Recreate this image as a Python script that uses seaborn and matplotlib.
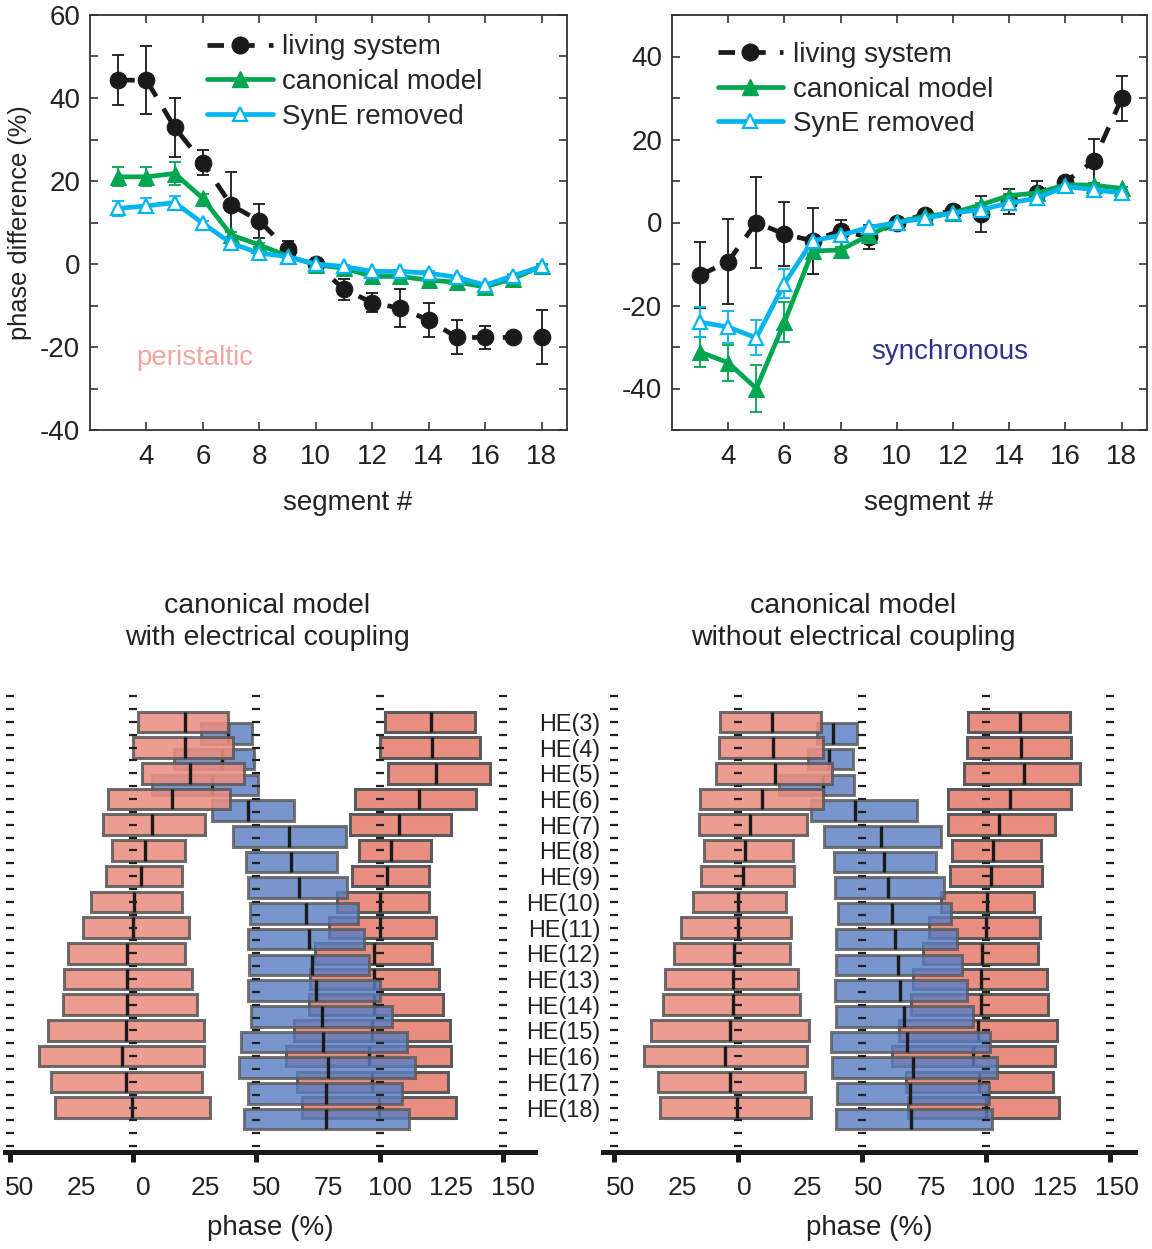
import numpy as np
import pandas as pd
import matplotlib
matplotlib.use("Agg")
import matplotlib.pyplot as plt
import matplotlib.transforms as mtransforms
import seaborn as sns
from matplotlib.lines import Line2D

# ---------------- data ----------------
segments = list(range(3, 19))

peri_living = [44.3, 44.3, 32.9, 24.4, 14.2, 10.4, 3.5, 0.0, -6.1, -9.3, -10.7, -13.5, -17.7, -17.7, -17.7, -17.7]
peri_living_err = [6.0, 8.2, 7.2, 3.0, 8.0, 4.1, 2.0, 0.5, 2.5, 2.2, 4.6, 4.0, 4.1, 2.8, 0.5, 6.5]
peri_canon = [21.0, 21.0, 21.8, 15.8, 7.0, 4.6, 1.9, -0.2, -1.0, -3.0, -3.0, -3.9, -4.4, -5.5, -3.5, -0.5]
peri_canon_err = [2.3, 2.3, 2.7, 1.0, 0.6, 0.5, 0.5, 0.4, 0.4, 0.4, 0.4, 0.4, 0.4, 0.4, 0.4, 0.4]
peri_syne = [13.4, 14.0, 14.8, 9.8, 5.0, 2.6, 1.8, 0.0, -0.6, -1.8, -1.8, -2.2, -3.2, -5.1, -2.8, -0.6]
peri_syne_err = [1.8, 1.8, 1.5, 0.6, 0.5, 0.5, 0.4, 0.4, 0.4, 0.4, 0.4, 0.4, 0.4, 0.4, 0.4, 0.4]

sync_living = [-12.7, -9.4, 0.0, -2.8, -4.4, -2.0, -3.5, 0.0, 1.9, 2.7, 2.0, 5.1, 7.1, 9.8, 14.8, 29.9]
sync_living_err = [7.9, 10.2, 10.9, 7.7, 8.0, 2.7, 2.8, 0.5, 1.0, 1.0, 4.4, 3.0, 2.8, 1.0, 5.4, 5.5]
sync_canon = [-31.2, -33.8, -40.0, -24.0, -6.9, -6.6, -3.1, 0.1, 1.5, 2.3, 4.3, 6.5, 7.1, 9.1, 9.0, 8.2]
sync_canon_err = [3.7, 4.4, 5.6, 4.8, 0.8, 0.6, 0.5, 0.4, 0.4, 0.4, 0.4, 0.4, 0.4, 0.4, 0.4, 0.4]
sync_syne = [-24.0, -25.2, -27.8, -14.7, -4.4, -3.1, -1.2, 0.0, 1.0, 2.3, 3.1, 4.7, 5.9, 8.7, 7.9, 7.1]
sync_syne_err = [3.6, 3.8, 4.2, 3.4, 0.6, 0.5, 0.4, 0.4, 0.4, 0.4, 0.4, 0.4, 0.4, 0.4, 0.4, 0.4]

series_names = ["living system", "canonical model", "SynE removed"]

he_labels = [f"HE({i})" for i in segments]

# with electrical coupling (phase %)
wc_pink_start = [2.0, 0.0, 3.4, -10.1, -12.2, -8.4, -11.1, -17.3, -20.5, -26.3, -28.1, -28.6, -34.7, -38.2, -33.4, -31.7]
wc_pink_med = [21.0, 21.2, 23.0, 15.8, 7.7, 4.7, 3.0, 0.3, 0.0, -2.4, -2.4, -2.4, -3.1, -4.5, -3.0, -0.3]
wc_pink_end = [38.5, 40.5, 44.9, 39.2, 29.1, 21.0, 20.0, 20.0, 22.7, 21.1, 23.9, 25.7, 28.7, 28.8, 27.8, 31.1]
wc_blue_start = [27.4, 16.5, 7.8, 32.0, 40.5, 45.7, 46.6, 47.3, 46.6, 47.0, 46.6, 47.6, 43.9, 43.0, 46.6, 45.0]
wc_blue_med = [38.5, 36.2, 32.0, 46.6, 63.2, 64.2, 67.3, 70.0, 71.2, 72.7, 74.1, 76.4, 76.8, 79.1, 78.4, 78.1]
wc_blue_end = [48.0, 48.9, 50.7, 65.3, 86.5, 82.7, 86.8, 91.2, 93.5, 95.7, 100.3, 104.8, 111.1, 114.2, 109.2, 111.9]

# without electrical coupling (phase %)
nc_pink_start = [-7.1, -7.7, -8.8, -15.4, -15.5, -13.7, -14.7, -18.2, -23.0, -25.5, -29.3, -30.1, -34.9, -37.8, -32.2, -31.5]
nc_pink_med = [13.8, 14.2, 15.1, 9.7, 5.1, 2.7, 1.9, 0.2, 0.0, -1.6, -1.9, -2.1, -3.2, -5.3, -3.0, -0.2]
nc_pink_end = [33.7, 34.4, 37.9, 34.4, 27.7, 22.1, 22.6, 19.5, 21.6, 21.1, 24.4, 24.9, 28.5, 27.7, 27.1, 29.5]
nc_blue_start = [31.9, 28.1, 16.6, 29.5, 34.8, 38.6, 39.3, 40.2, 39.5, 39.7, 39.3, 39.7, 37.6, 37.9, 40.0, 39.7]
nc_blue_med = [38.3, 36.9, 34.4, 47.3, 57.7, 58.8, 60.5, 62.3, 63.2, 64.4, 65.4, 66.9, 68.2, 70.6, 69.5, 69.6]
nc_blue_end = [48.1, 46.5, 46.9, 72.0, 82.0, 79.7, 82.9, 85.9, 88.3, 90.5, 92.2, 94.7, 101.7, 104.5, 101.3, 102.4]

phase_ticks = [-50, -25, 0, 25, 50, 75, 100, 125, 150]
phase_tick_labels = ["50", "25", "0", "25", "50", "75", "100", "125", "150"]
phase_marks = [-50, 0, 50, 100, 150]

# ---------------- style ----------------
sns.set_theme(style="white")
plt.rcParams["font.family"] = ["Liberation Sans", "DejaVu Sans"]
plt.rcParams["axes.unicode_minus"] = False

C_LIV = "#1a1a1a"
C_CAN = "#00a650"
C_SYN = "#00b5ef"
C_PINK = "#ea8e82"
C_BLUE = "#5a7ec2"
C_EDGE = "#5a5a5a"
C_TXT = "#222222"

fig = plt.figure(figsize=(11.52, 12.49), dpi=100)

W, H = 1152.0, 1249.0


def fbox(x0, y0, x1, y1):
    return [x0 / W, 1 - y1 / H, (x1 - x0) / W, (y1 - y0) / H]


ax1 = fig.add_axes(fbox(90, 15, 567, 430))
ax2 = fig.add_axes(fbox(672, 15, 1147, 430))


def top_panel(ax, liv, liv_e, can, can_e, syn, syn_e, ylim, yticks_major, legend_xy):
    df = pd.DataFrame({
        "segment": segments * 3,
        "value": liv + can + syn,
        "series": [series_names[0]] * 16 + [series_names[1]] * 16 + [series_names[2]] * 16,
    })
    ax.errorbar(segments, liv, yerr=liv_e, fmt="none", ecolor=C_LIV, elinewidth=1.3, capsize=4, capthick=1.3, zorder=2)
    ax.errorbar(segments, can, yerr=can_e, fmt="none", ecolor=C_CAN, elinewidth=1.3, capsize=4, capthick=1.3, zorder=2)
    ax.errorbar(segments, syn, yerr=syn_e, fmt="none", ecolor=C_SYN, elinewidth=1.3, capsize=4, capthick=1.3, zorder=2)
    sns.lineplot(data=df[df.series == series_names[0]], x="segment", y="value", ax=ax,
                 color=C_LIV, lw=3.4, linestyle=(0, (3.5, 3.0)), marker="o", markersize=12,
                 markeredgecolor=C_LIV, zorder=3, legend=False)
    sns.lineplot(data=df[df.series == series_names[1]], x="segment", y="value", ax=ax,
                 color=C_CAN, lw=3.4, marker="^", markersize=11, markeredgecolor=C_CAN,
                 zorder=4, legend=False)
    sns.lineplot(data=df[df.series == series_names[2]], x="segment", y="value", ax=ax,
                 color=C_SYN, lw=3.4, marker="^", markersize=10, markerfacecolor="white",
                 markeredgecolor=C_SYN, markeredgewidth=1.6, zorder=5, legend=False)
    ax.set_xlim(2.0, 18.9)
    ax.set_ylim(*ylim)
    ax.set_xticks(range(4, 19, 2))
    ax.set_yticks(yticks_major)
    ax.set_yticks(np.arange(ylim[0], ylim[1] + 0.1, 10), minor=True)
    ax.tick_params(axis="both", which="both", direction="in", top=True, right=True,
                   bottom=True, left=True, length=6, width=1.1, labelsize=20, colors=C_TXT)
    ax.tick_params(axis="x", pad=10)
    ax.tick_params(axis="y", pad=7)
    for s in ax.spines.values():
        s.set_visible(True)
        s.set_linewidth(1.3)
        s.set_color("#333333")
    ax.set_xlabel("segment #", fontsize=20, color=C_TXT)
    ax.xaxis.set_label_coords(0.54, -0.145)
    ax.set_ylabel("")
    handles = [
        Line2D([], [], color=C_LIV, lw=3.4, linestyle=(0, (3.5, 3.0)), marker="o", markersize=12),
        Line2D([], [], color=C_CAN, lw=3.4, marker="^", markersize=11),
        Line2D([], [], color=C_SYN, lw=3.4, marker="^", markersize=10, markerfacecolor="white",
               markeredgewidth=1.6),
    ]
    ax.legend(handles, series_names, loc="upper left", bbox_to_anchor=legend_xy,
              frameon=False, fontsize=20, handlelength=2.35, handletextpad=0.35,
              labelspacing=0.31, borderaxespad=0.3)


top_panel(ax1, peri_living, peri_living_err, peri_canon, peri_canon_err, peri_syne, peri_syne_err,
          (-40, 60), [-40, -20, 0, 20, 40, 60], (0.205, 1.0))
ax1.set_ylabel("phase difference (%)", fontsize=18.3, color=C_TXT, labelpad=6)
ax1.text(3.65, -22.6, "peristaltic", color="#f4a5a3", fontsize=20, va="center", ha="left")

top_panel(ax2, sync_living, sync_living_err, sync_canon, sync_canon_err, sync_syne, sync_syne_err,
          (-50, 50), [-40, -20, 0, 20, 40], (0.055, 0.982))
ax2.text(9.07, -31.2, "synchronous", color="#2e3192", fontsize=20, va="center", ha="left")

# ---------------- bottom panels ----------------
ax3 = fig.add_axes(fbox(5, 680, 535, 1152))
ax4 = fig.add_axes(fbox(603, 680, 1135, 1152))

rows = np.arange(len(segments))
dash_rows = np.arange(-1.0, 16.6, 0.5)
bar_h = 0.8
blue_shift = 0.45


def bottom_panel(ax, ps, pm, pe, bs, bm, be, xlim, label_dx):
    ps, pm, pe = np.array(ps), np.array(pm), np.array(pe)
    bs, bm, be = np.array(bs), np.array(bm), np.array(be)
    # next-cycle copy of pink bursts, under blue
    ax.barh(rows, pe - ps, left=ps + 100, height=bar_h, color=C_PINK, edgecolor=C_EDGE,
            linewidth=2.2, zorder=2)
    ax.vlines(pm + 100, rows - bar_h / 2, rows + bar_h / 2, color="#1a1a1a", lw=2.4, zorder=2.5)
    # blue bursts
    ax.barh(rows + blue_shift, be - bs, left=bs, height=bar_h, color=C_BLUE, edgecolor=C_EDGE,
            linewidth=2.2, alpha=0.82, zorder=3)
    ax.vlines(bm, rows + blue_shift - bar_h / 2, rows + blue_shift + bar_h / 2, color="#1a1a1a",
              lw=2.4, zorder=3.5)
    # current-cycle pink bursts
    ax.barh(rows, pe - ps, left=ps, height=bar_h, color=C_PINK, edgecolor=C_EDGE,
            linewidth=2.2, alpha=0.88, zorder=4)
    ax.vlines(pm, rows - bar_h / 2, rows + bar_h / 2, color="#1a1a1a", lw=2.4, zorder=4.5)
    # dashed reference columns
    for xv in phase_marks:
        ax.plot(np.full_like(dash_rows, xv), dash_rows, ls="none", marker="_", ms=6,
                mew=1.6, color=C_TXT, zorder=5)
    ax.set_xlim(*xlim)
    ax.set_ylim(16.73, -1.63)
    for side in ["left", "right", "top"]:
        ax.spines[side].set_visible(False)
    ax.spines["bottom"].set_linewidth(3.6)
    ax.spines["bottom"].set_color("#1a1a1a")
    ax.xaxis.remove_overlapping_locs = False
    ax.set_xticks(phase_marks, labels=[""] * len(phase_marks))
    ax.set_xticks(phase_ticks, labels=phase_tick_labels, minor=True)
    ax.tick_params(axis="x", which="major", direction="out", length=7, width=3.6,
                   color="#1a1a1a", bottom=True)
    ax.tick_params(axis="x", which="minor", length=0, pad=17, labelsize=19,
                   labelcolor=C_TXT)
    shift = mtransforms.ScaledTranslation(label_dx / 100.0, 0, fig.dpi_scale_trans)
    for lab in ax.xaxis.get_minorticklabels():
        lab.set_transform(lab.get_transform() + shift)
    ax.set_xlabel("phase (%)", fontsize=20, color=C_TXT, labelpad=11)
    ax.grid(False)


bottom_panel(ax3, wc_pink_start, wc_pink_med, wc_pink_end, wc_blue_start, wc_blue_med,
             wc_blue_end, (-52, 163), 10)
ax3.set_yticks([])

bottom_panel(ax4, nc_pink_start, nc_pink_med, nc_pink_end, nc_blue_start, nc_blue_med,
             nc_blue_end, (-54.3, 160), 7)
ax4.set_yticks(rows, labels=he_labels)
ax4.tick_params(axis="y", length=0, pad=2, labelsize=16.8, labelcolor=C_TXT)

fig.text(267 / W, 1 - 622 / H, "canonical model\nwith electrical coupling", ha="center",
         va="center", fontsize=20.5, color=C_TXT, linespacing=1.3)
fig.text(853 / W, 1 - 622 / H, "canonical model\nwithout electrical coupling", ha="center",
         va="center", fontsize=20.5, color=C_TXT, linespacing=1.3)

fig.savefig("out.png", dpi=100)
